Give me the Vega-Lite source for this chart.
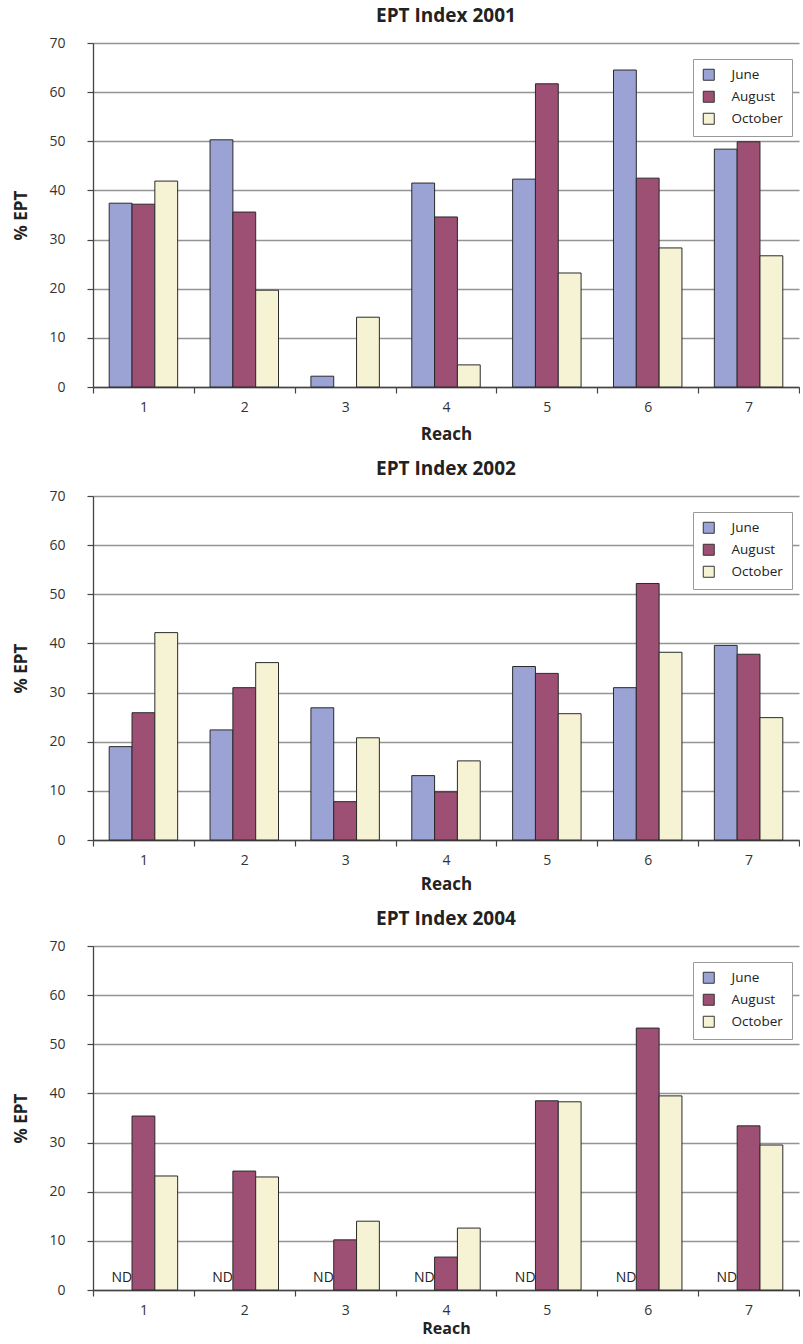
{
  "$schema": "https://vega.github.io/schema/vega-lite/v6.json",
  "background": "white",
  "padding": {"left": 12, "top": 7, "right": 0, "bottom": 4},
  "config": {
    "view": {"stroke": null},
    "font": "Open Sans",
    "title": {"font": "Open Sans", "fontSize": 19, "fontWeight": "bold", "color": "#222", "offset": 10},
    "concat": {"spacing": 18},
    "axis": {
      "labelFont": "Open Sans", "labelFontSize": 14, "labelColor": "#333",
      "titleFont": "Open Sans", "titleFontSize": 17, "titleFontWeight": "bold", "titleColor": "#222",
      "tickColor": "#444", "tickSize": 6, "tickWidth": 1.2,
      "domainColor": "#444", "domainWidth": 1.3,
      "gridColor": "#949494", "gridWidth": 1.4
    },
    "axisY": {"grid": true, "labelPadding": 22, "titlePadding": 18},
    "axisX": {"grid": false, "labelPadding": 7, "titlePadding": 12, "labelAngle": 0, "tickBand": "extent"},
    "legend": {
      "symbolType": "square", "symbolSize": 121, "symbolStrokeColor": "#333", "symbolStrokeWidth": 1,
      "labelFont": "Open Sans", "labelFontSize": 13.5, "labelColor": "#222", "labelOffset": 16,
      "rowPadding": 6, "padding": 9, "strokeColor": "#999", "fillColor": "white"
    }
  },
  "datasets": {
    "d2001": [
      {"reach": 1, "month": "June", "ept": 37.4}, {"reach": 1, "month": "August", "ept": 37.2}, {"reach": 1, "month": "October", "ept": 41.9},
      {"reach": 2, "month": "June", "ept": 50.3}, {"reach": 2, "month": "August", "ept": 35.6}, {"reach": 2, "month": "October", "ept": 19.7},
      {"reach": 3, "month": "June", "ept": 2.2}, {"reach": 3, "month": "October", "ept": 14.2},
      {"reach": 4, "month": "June", "ept": 41.5}, {"reach": 4, "month": "August", "ept": 34.6}, {"reach": 4, "month": "October", "ept": 4.5},
      {"reach": 5, "month": "June", "ept": 42.3}, {"reach": 5, "month": "August", "ept": 61.7}, {"reach": 5, "month": "October", "ept": 23.2},
      {"reach": 6, "month": "June", "ept": 64.5}, {"reach": 6, "month": "August", "ept": 42.5}, {"reach": 6, "month": "October", "ept": 28.3},
      {"reach": 7, "month": "June", "ept": 48.4}, {"reach": 7, "month": "August", "ept": 49.9}, {"reach": 7, "month": "October", "ept": 26.7}
    ],
    "d2002": [
      {"reach": 1, "month": "June", "ept": 19.0}, {"reach": 1, "month": "August", "ept": 25.9}, {"reach": 1, "month": "October", "ept": 42.2},
      {"reach": 2, "month": "June", "ept": 22.4}, {"reach": 2, "month": "August", "ept": 31.0}, {"reach": 2, "month": "October", "ept": 36.1},
      {"reach": 3, "month": "June", "ept": 26.9}, {"reach": 3, "month": "August", "ept": 7.8}, {"reach": 3, "month": "October", "ept": 20.8},
      {"reach": 4, "month": "June", "ept": 13.1}, {"reach": 4, "month": "August", "ept": 9.8}, {"reach": 4, "month": "October", "ept": 16.1},
      {"reach": 5, "month": "June", "ept": 35.3}, {"reach": 5, "month": "August", "ept": 33.9}, {"reach": 5, "month": "October", "ept": 25.7},
      {"reach": 6, "month": "June", "ept": 31.0}, {"reach": 6, "month": "August", "ept": 52.2}, {"reach": 6, "month": "October", "ept": 38.2},
      {"reach": 7, "month": "June", "ept": 39.6}, {"reach": 7, "month": "August", "ept": 37.8}, {"reach": 7, "month": "October", "ept": 24.9}
    ],
    "d2004": [
      {"reach": 1, "month": "June", "ept": null, "note": "ND"}, {"reach": 1, "month": "August", "ept": 35.4}, {"reach": 1, "month": "October", "ept": 23.2},
      {"reach": 2, "month": "June", "ept": null, "note": "ND"}, {"reach": 2, "month": "August", "ept": 24.2}, {"reach": 2, "month": "October", "ept": 23.0},
      {"reach": 3, "month": "June", "ept": null, "note": "ND"}, {"reach": 3, "month": "August", "ept": 10.2}, {"reach": 3, "month": "October", "ept": 14.0},
      {"reach": 4, "month": "June", "ept": null, "note": "ND"}, {"reach": 4, "month": "August", "ept": 6.7}, {"reach": 4, "month": "October", "ept": 12.6},
      {"reach": 5, "month": "June", "ept": null, "note": "ND"}, {"reach": 5, "month": "August", "ept": 38.5}, {"reach": 5, "month": "October", "ept": 38.3},
      {"reach": 6, "month": "June", "ept": null, "note": "ND"}, {"reach": 6, "month": "August", "ept": 53.3}, {"reach": 6, "month": "October", "ept": 39.5},
      {"reach": 7, "month": "June", "ept": null, "note": "ND"}, {"reach": 7, "month": "August", "ept": 33.4}, {"reach": 7, "month": "October", "ept": 29.5}
    ]
  },
  "vconcat": [
    {
      "title": "EPT Index 2001",
      "width": 706, "height": 344,
      "data": {"name": "d2001"},
      "mark": {"type": "bar", "stroke": "#2a2a2a", "strokeWidth": 1},
      "encoding": {
        "x": {"field": "reach", "type": "ordinal", "scale": {"domain": [1, 2, 3, 4, 5, 6, 7], "paddingInner": 0, "paddingOuter": 0}, "axis": {"title": "Reach"}},
        "xOffset": {"field": "month", "type": "nominal", "scale": {"domain": ["June", "August", "October"], "paddingInner": 0, "paddingOuter": 0.71}},
        "y": {"field": "ept", "type": "quantitative", "scale": {"domain": [0, 70], "nice": false}, "axis": {"title": "% EPT", "values": [0, 10, 20, 30, 40, 50, 60, 70]}},
        "color": {"field": "month", "type": "nominal", "scale": {"domain": ["June", "August", "October"], "range": ["#9aa3d3", "#9d4f74", "#f5f3d3"]}, "legend": {"title": null, "orient": "none", "legendX": 600, "legendY": 16}}
      }
    },
    {
      "title": "EPT Index 2002",
      "width": 706, "height": 344,
      "data": {"name": "d2002"},
      "mark": {"type": "bar", "stroke": "#2a2a2a", "strokeWidth": 1},
      "encoding": {
        "x": {"field": "reach", "type": "ordinal", "scale": {"domain": [1, 2, 3, 4, 5, 6, 7], "paddingInner": 0, "paddingOuter": 0}, "axis": {"title": "Reach", "titlePadding": 9}},
        "xOffset": {"field": "month", "type": "nominal", "scale": {"domain": ["June", "August", "October"], "paddingInner": 0, "paddingOuter": 0.71}},
        "y": {"field": "ept", "type": "quantitative", "scale": {"domain": [0, 70], "nice": false}, "axis": {"title": "% EPT", "values": [0, 10, 20, 30, 40, 50, 60, 70]}},
        "color": {"field": "month", "type": "nominal", "scale": {"domain": ["June", "August", "October"], "range": ["#9aa3d3", "#9d4f74", "#f5f3d3"]}, "legend": {"title": null, "orient": "none", "legendX": 600, "legendY": 16}}
      }
    },
    {
      "title": "EPT Index 2004",
      "width": 706, "height": 344,
      "data": {"name": "d2004"},
      "encoding": {
        "x": {"field": "reach", "type": "ordinal", "scale": {"domain": [1, 2, 3, 4, 5, 6, 7], "paddingInner": 0, "paddingOuter": 0}, "axis": {"title": "Reach", "titlePadding": 3, "titleFontSize": 16}},
        "xOffset": {"field": "month", "type": "nominal", "scale": {"domain": ["June", "August", "October"], "paddingInner": 0, "paddingOuter": 0.71}}
      },
      "layer": [
        {
          "mark": {"type": "bar", "stroke": "#2a2a2a", "strokeWidth": 1},
          "encoding": {
            "y": {"field": "ept", "type": "quantitative", "scale": {"domain": [0, 70], "nice": false}, "axis": {"title": "% EPT", "values": [0, 10, 20, 30, 40, 50, 60, 70]}},
            "color": {"field": "month", "type": "nominal", "scale": {"domain": ["June", "August", "October"], "range": ["#9aa3d3", "#9d4f74", "#f5f3d3"]}, "legend": {"title": null, "orient": "none", "legendX": 600, "legendY": 16}}
          }
        },
        {
          "transform": [{"filter": "datum.note != null"}],
          "mark": {"type": "text", "align": "right", "baseline": "alphabetic", "dx": 11.5, "dy": -8, "fontSize": 14, "color": "#222", "font": "Open Sans"},
          "encoding": {
            "y": {"datum": 0},
            "text": {"field": "note"}
          }
        }
      ]
    }
  ],
  "resolve": {"scale": {"color": "independent"}, "legend": {"color": "independent"}}
}
